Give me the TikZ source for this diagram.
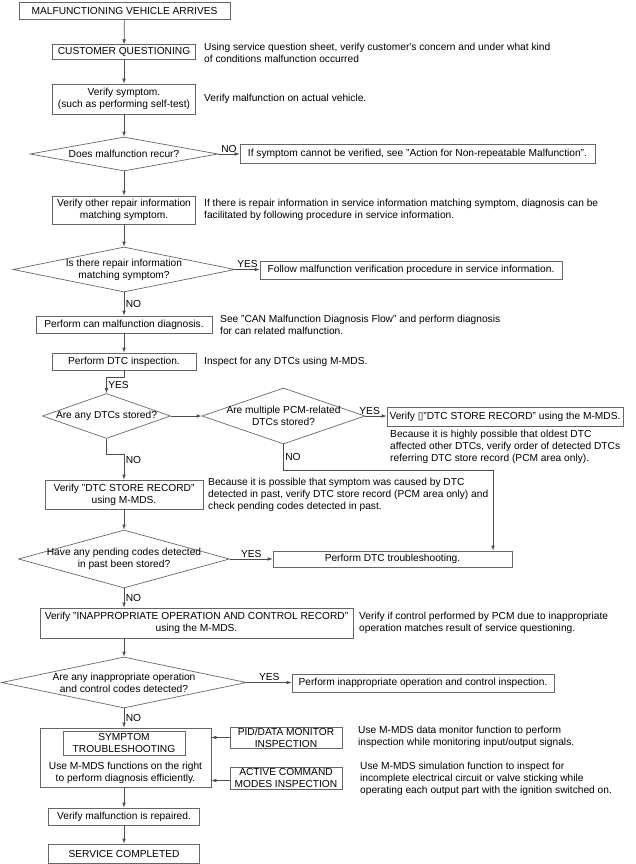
\documentclass[tikz,border=0pt]{standalone}
\usepackage{fontspec}
\setmainfont{Liberation Sans}
\newfontfamily\symb{DejaVu Sans}
\usetikzlibrary{shapes.geometric,arrows.meta}

\begin{document}
\begin{tikzpicture}[x=1pt,y=-1pt,font=\fontsize{10.2}{12.2}\selectfont]
\tikzset{boite/.style={draw=black!60, line width=0.7pt, inner sep=0pt, align=center},
losange/.style={draw=black!60, line width=0.7pt, diamond, inner sep=0pt},
note/.style={anchor=west, align=left, inner sep=0pt},
fleche/.style={draw=black!70, line width=0.7pt, -{Latex[length=5pt,width=3.6pt]}},
rep/.style={inner sep=1.5pt}}
\useasboundingbox (0,0) rectangle (635,864);
\node[boite, minimum width=211pt, minimum height=17pt] (B1) at (124.5,10.5) {MALFUNCTIONING VEHICLE ARRIVES};
\node[boite, minimum width=143pt, minimum height=14.5pt] (B2) at (124,52) {CUSTOMER QUESTIONING};
\node[boite, minimum width=143pt, minimum height=30pt] (B3) at (124,99) {Verify symptom.\\(such as performing self-test)};
\node[losange, minimum width=188pt, minimum height=34pt, label={center:{Does malfunction recur?}}] (D1) at (124,154) {};
\node[boite, minimum width=355pt, minimum height=19pt] (R1) at (417.5,153.5) {If symptom cannot be verified, see "Action for Non-repeatable Malfunction".};
\node[boite, minimum width=143pt, minimum height=28pt] (B4) at (124,210) {Verify other repair information\\matching symptom.};
\node[losange, minimum width=222pt, minimum height=45pt, label={[align=center]center:{Is there repair information\\matching symptom?}}] (D2) at (124,269.5) {};
\node[boite, minimum width=302pt, minimum height=18pt] (R2) at (411,270) {Follow malfunction verification procedure in service information.};
\node[boite, minimum width=176pt, minimum height=17pt] (B5) at (124,324.5) {Perform can malfunction diagnosis.};
\node[boite, minimum width=144pt, minimum height=17pt] (B6) at (124,361.5) {Perform DTC inspection.};
\node[losange, minimum width=128pt, minimum height=45pt, label={center:{Are any DTCs stored?}}] (D3) at (106.5,416) {};
\node[losange, minimum width=163pt, minimum height=56pt, label={[align=center]center:{Are multiple PCM-related\\DTCs stored?}}] (D4) at (283.5,416) {};
\node[boite, minimum width=236pt, minimum height=19pt] (R3) at (505,416.5) {Verify {\symb ▯}"DTC STORE RECORD" using the M-MDS.};
\node[boite, minimum width=158pt, minimum height=29pt] (B7) at (124,494.5) {Verify "DTC STORE RECORD"\\using M-MDS.};
\node[losange, minimum width=211pt, minimum height=58pt, label={[align=center]center:{Have any pending codes detected\\in past been stored?}}] (D5) at (124,559) {};
\node[boite, minimum width=239pt, minimum height=16pt] (R4) at (392.5,559) {Perform DTC troubleshooting.};
\node[boite, minimum width=313pt, minimum height=30pt] (B9) at (196.5,623) {Verify "INAPPROPRIATE OPERATION AND CONTROL RECORD"\\using the M-MDS.};
\node[losange, minimum width=245pt, minimum height=51pt, label={[align=center]center:{Are any inappropriate operation\\and control codes detected?}}] (D6) at (124,682.5) {};
\node[boite, minimum width=262pt, minimum height=18pt] (R5) at (423,683) {Perform inappropriate operation and control inspection.};
\node[boite, minimum width=171pt, minimum height=59pt] (B11) at (125.5,757.5) {};
\node[boite, minimum width=122pt, minimum height=24pt] (B11a) at (124,743) {SYMPTOM\\TROUBLESHOOTING};
\node[align=center, inner sep=0pt] (B11b) at (125.5,773) {Use M-MDS functions on the right\\to perform diagnosis efficiently.};
\node[boite, minimum width=112pt, minimum height=21pt] (B12) at (286,737.5) {PID/DATA MONITOR\\INSPECTION};
\node[boite, minimum width=112pt, minimum height=22pt] (B13) at (286,778) {ACTIVE COMMAND\\MODES INSPECTION};
\node[boite, minimum width=151pt, minimum height=17pt] (B14) at (124,816.5) {Verify malfunction is repaired.};
\node[boite, minimum width=151pt, minimum height=19pt] (B15) at (124,853.5) {SERVICE COMPLETED};
\node[note] (N2) at (204,53) {Using service question sheet, verify customer\textquotesingle s concern and under what kind\\of conditions malfunction occurred};
\node[note] (N3) at (204,99) {Verify malfunction on actual vehicle.};
\node[note] (N4) at (204,210) {If there is repair information in service information matching symptom, diagnosis can be\\facilitated by following procedure in service information.};
\node[note] (N5) at (220,325) {See "CAN Malfunction Diagnosis Flow" and perform diagnosis\\for can related malfunction.};
\node[note] (N6) at (204,362) {Inspect for any DTCs using M-MDS.};
\node[note] (N8) at (390,447) {Because it is highly possible that oldest DTC\\affected other DTCs, verify order of detected DTCs\\referring DTC store record (PCM area only).};
\node[note] (N7) at (208,495) {Because it is possible that symptom was caused by DTC\\detected in past, verify DTC store record (PCM area only) and\\check pending codes detected in past.};
\node[note] (N9) at (359,623) {Verify if control performed by PCM due to inappropriate\\operation matches result of service questioning.};
\node[note] (N12) at (358,737) {Use M-MDS data monitor function to perform\\inspection while monitoring input/output signals.};
\node[note] (N13) at (360,779) {Use M-MDS simulation function to inspect for\\incomplete electrical circuit or valve sticking while\\operating each output part with the ignition switched on.};
\coordinate (K1) at (493,470);
\draw[fleche] (B1) -- (B2);
\draw[fleche] (B2) -- (B3);
\draw[fleche] (B3) -- (D1);
\draw[fleche] (D1) -- (B4);
\draw[fleche] (D1.east) -- node[rep, above] {NO} (D1.east -| R1.west);
\draw[fleche] (B4) -- (D2);
\draw[fleche] (D2.east) -- node[rep, above] {YES} (D2.east -| R2.west);
\draw[fleche] (D2) -- node[rep, right] {NO} (B5);
\draw[fleche] (B5) -- (B6);
\draw[fleche] (B6.south) -- ++(0,7) -| node[rep, pos=0.75, right] {YES} (D3.north);
\draw[fleche] (D3.east) -- (D4.west);
\draw[fleche] (D4.east) -- node[rep, pos=0.2, above] {YES} (D4.east -| R3.west);
\draw[fleche] (D4.south) |- node[rep, pos=0.25, right] {NO} (K1) -- (K1 |- R4.north);
\draw[fleche] (D3.south) -- ++(0,15) -| node[rep, pos=0.62, right] {NO} (B7.north);
\draw[fleche] (B7) -- (D5);
\draw[fleche] (D5.east) -- node[rep, above] {YES} (D5.east -| R4.west);
\draw[fleche] (D5.south) -- node[rep, right] {NO} (D5.south |- B9.north);
\draw[fleche] (D6.north |- B9.south) -- (D6.north);
\draw[fleche] (D6.east) -- node[rep, above] {YES} (D6.east -| R5.west);
\draw[fleche] (D6.south) -- node[rep, right] {NO} (D6.south |- B11.north);
\draw[fleche] (B12.west) -- (B12.west -| B11.east);
\draw[fleche] ([yshift=-2.5pt]B13.west) -- ([yshift=-2.5pt]B13.west -| B11.east);
\draw[fleche] (B11.south -| B14.north) -- (B14.north);
\draw[fleche] (B14) -- (B15);
\end{tikzpicture}
\end{document}
